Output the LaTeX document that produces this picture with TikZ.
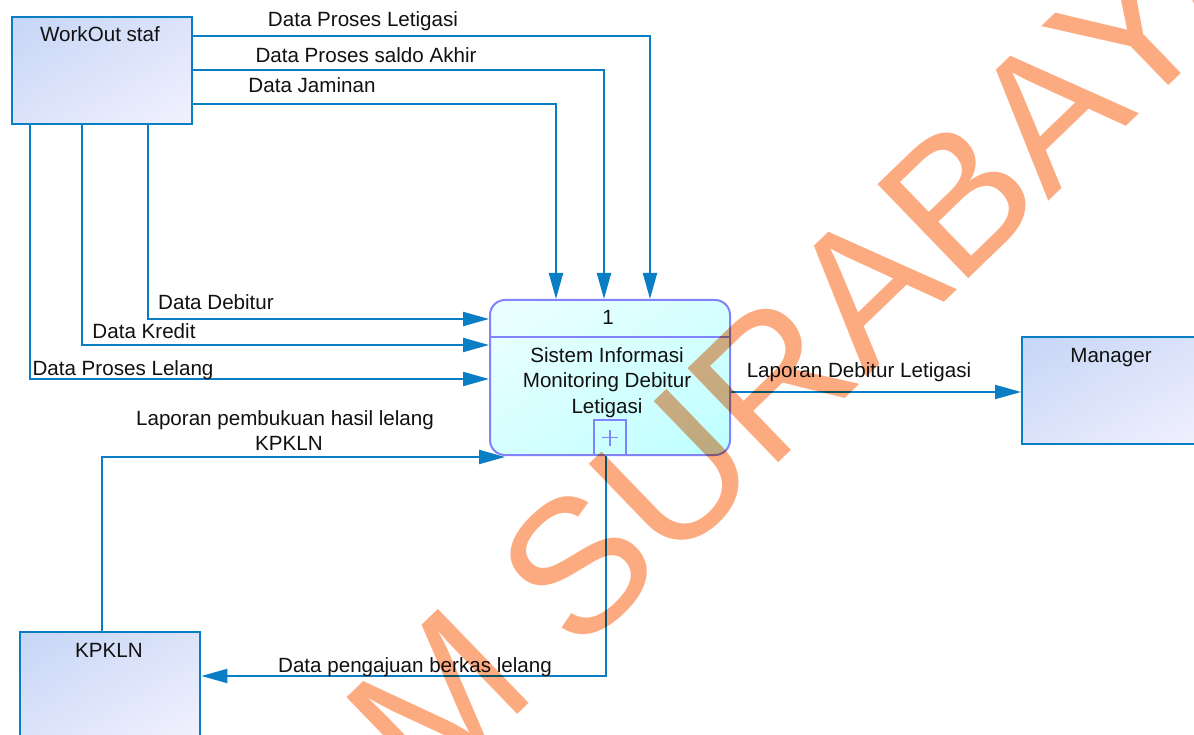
\documentclass[tikz,border=0pt]{standalone}
\usepackage{fontspec}
\setmainfont{Liberation Sans}
\newfontfamily\wmfont{Liberation Sans}
\usetikzlibrary{arrows.meta,calc,shadings}
\definecolor{flowblue}{HTML}{0A7EC4}
\definecolor{procedge}{HTML}{8282FA}
\definecolor{entdark}{HTML}{C6D6F6}
\definecolor{entmid}{HTML}{DCE3FA}
\definecolor{entlight}{HTML}{F2F2FE}
\definecolor{procul}{HTML}{EEFFFF}
\definecolor{procmid}{HTML}{D6FFFF}
\definecolor{proclr}{HTML}{BDFFFF}
\definecolor{wmorange}{HTML}{FCAA80}
\definecolor{ink}{HTML}{111111}

\begin{document}
\begin{tikzpicture}[x=1pt,y=-1pt,
  entity/.style={draw=flowblue, line width=2.4pt, rectangle, inner sep=0pt,
    anchor=north west, minimum width=180pt, minimum height=107pt,
    upper left=entdark, upper right=entmid, lower left=entmid, lower right=entlight},
  process/.style={draw=procedge, line width=2pt, rectangle, rounded corners=15pt,
    inner sep=0pt, anchor=north west, minimum width=240pt, minimum height=155pt,
    upper left=procul, upper right=procmid, lower left=procmid, lower right=proclr},
  flow/.style={draw=flowblue, line width=2pt, -{Triangle[length=26pt,width=14pt]}},
  txt/.style={font=\fontsize{20.6}{24}\selectfont, text=ink, inner sep=0pt, anchor=base}]

\path[use as bounding box, clip] (0,0) rectangle (1194,735);
\fill[white] (0,0) rectangle (1194,735);

% external entities
\node[entity] (ws) at (11,16) {};
\node[entity, minimum width=190pt] (mg) at (1021,336) {};
\node[entity] (kp) at (19,631) {};
\node[txt] (wst) at (100,42) {WorkOut staf};
\node[txt] (mgt) at (1111,362) {Manager};
\node[txt] (kpt) at (109,657) {KPKLN};

% process 1
\node[process] (p) at (489,299) {};
\draw[procedge, line width=2pt] (p.west |- 0,337) -- (p.east |- 0,337);
\node[txt] (pn) at (608,325) {1};
\node[txt] (pl1) at (607,362) {Sistem Informasi};
\node[txt] (pl2) at (607,387) {Monitoring Debitur};
\node[txt] (pl3) at (607,413) {Letigasi};
\node[draw=procedge, line width=2pt, rectangle, inner sep=0pt, anchor=north west,
  minimum width=32pt, minimum height=35pt] (pb) at (593,419) {};
\draw[procedge, line width=1.6pt] ($(pb.center)+(-8,0)$) -- ($(pb.center)+(8,0)$)
  ($(pb.center)+(0,-8)$) -- ($(pb.center)+(0,8)$);

% data flows
\draw[flow] (ws.east |- 0,36) -| (650,0 |- p.north);
\draw[flow] (ws.east |- 0,70) -| (604,0 |- p.north);
\draw[flow] (ws.east |- 0,104) -| (556,0 |- p.north);
\draw[flow] (148,0 |- ws.south) |- (p.west |- 0,319);
\draw[flow] (82,0 |- ws.south) |- (p.west |- 0,345);
\draw[flow] (30,0 |- ws.south) |- (p.west |- 0,379);
\draw[flow] (p.east |- 0,392) -- (mg.west |- 0,392);
\draw[flow] (102,0 |- kp.north) |- ($(p.south west)+(16,1)$);
\draw[flow] (606,0 |- p.south) |- (kp.east |- 0,676);

% flow labels
\node[txt] (f1) at (363,27) {Data Proses Letigasi};
\node[txt] (f2) at (366,63) {Data Proses saldo Akhir};
\node[txt] (f3) at (312,93) {Data Jaminan};
\node[txt] (f4) at (216,310) {Data Debitur};
\node[txt] (f5) at (144,338) {Data Kredit};
\node[txt] (f6) at (123,375) {Data Proses Lelang};
\node[txt] (f7) at (285,425) {Laporan pembukuan hasil lelang};
\node[txt] (f7b) at (289,450) {KPKLN};
\node[txt] (f8) at (859,377) {Laporan Debitur Letigasi};
\node[txt] (f9) at (415,672) {Data pengajuan berkas lelang};

% watermark
\begin{scope}[blend mode=multiply]
\node[rotate=44, anchor=base west, inner sep=0pt, text=wmorange,
  font=\wmfont\fontsize{190}{190}\selectfont] (wm) at (426,803) {M SURABAYA};
\end{scope}
\end{tikzpicture}
\end{document}
